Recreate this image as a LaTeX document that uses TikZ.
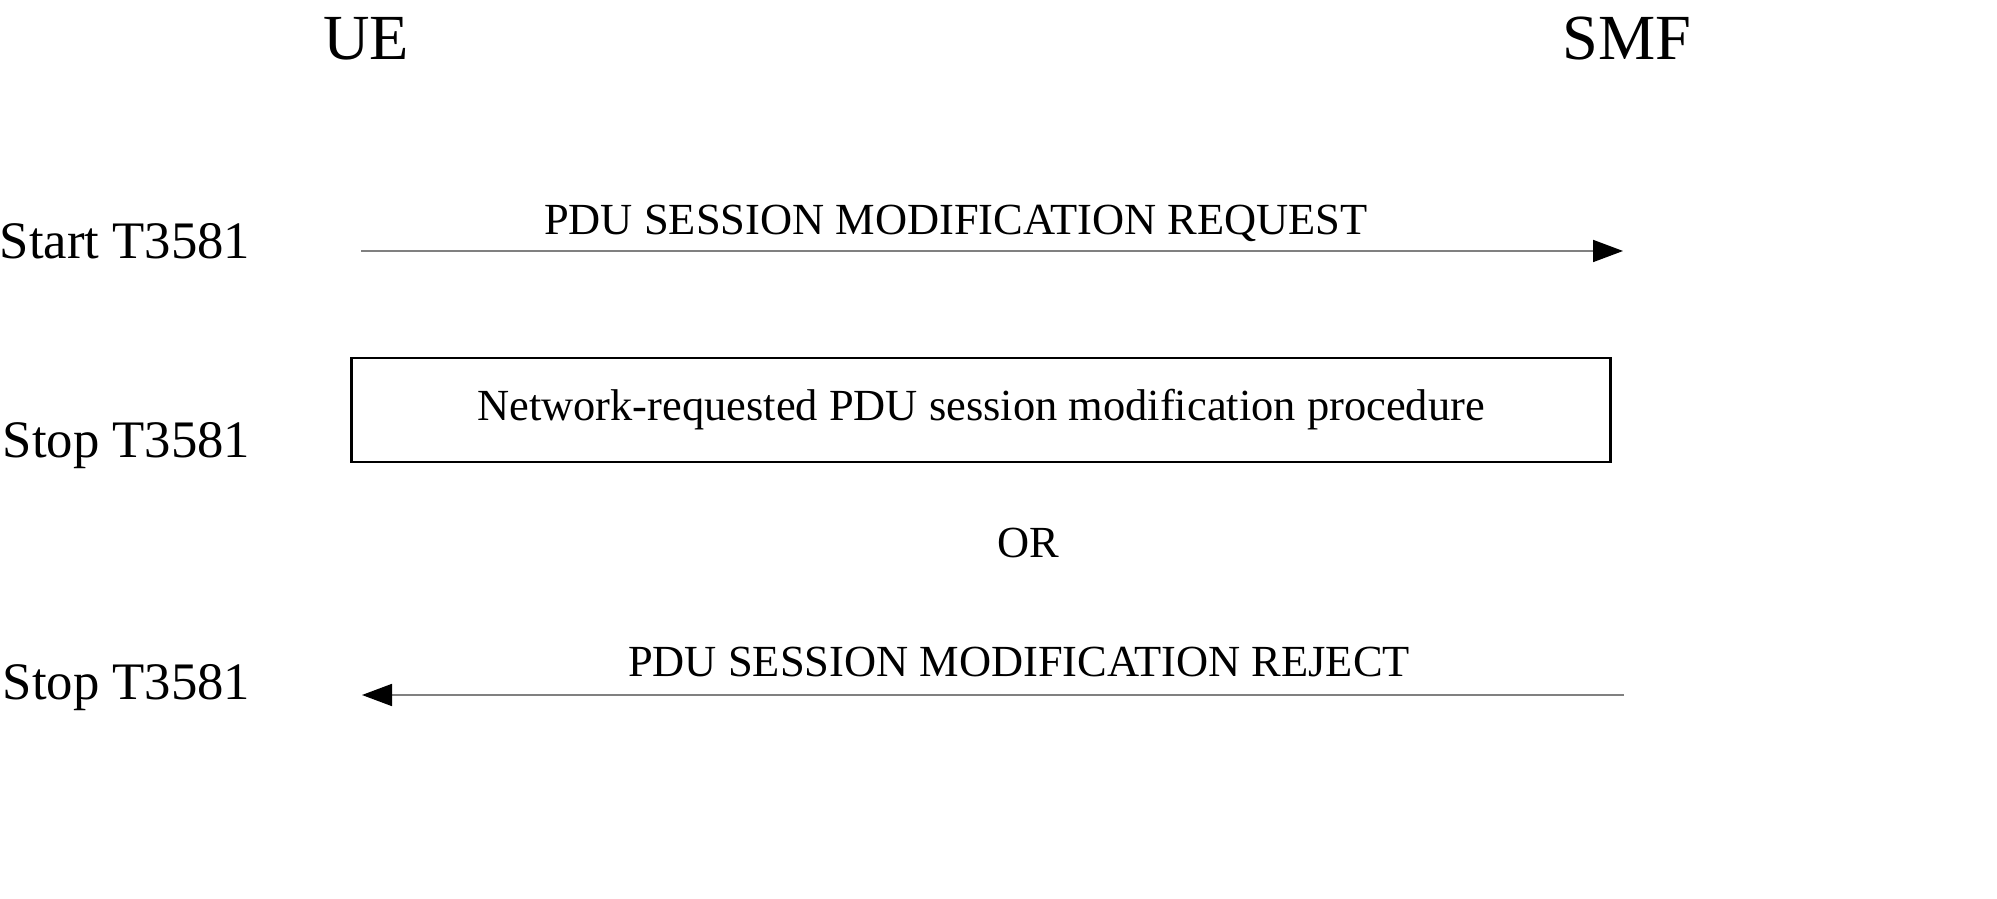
\documentclass[tikz,border=0pt]{standalone}
\usepackage{fontspec}
\setmainfont{Liberation Serif}
\usetikzlibrary{arrows.meta}

\begin{document}
\begin{tikzpicture}[
		entity/.style={font=\fontsize{18.3}{20}\selectfont, inner sep=0pt, anchor=base},
		timer/.style={font=\fontsize{15}{18}\selectfont, inner sep=0pt, anchor=base east},
		msglabel/.style={font=\fontsize{12.65}{14}\selectfont, inner sep=0pt, anchor=base},
		msg/.style={draw=gray, line width=0.5pt, -{Triangle[length=3mm,width=2.2mm,black]}},
		proc/.style={draw, line width=0.8pt, minimum width=12.59cm, minimum height=1.04cm, font=\fontsize{12.65}{14}\selectfont}
	]
		\useasboundingbox (0,0) rectangle (19.97,-8.99);
		
		% Entities
		\node[entity] (ue) at (3.66,-0.60) {UE};
		\node[entity] (smf) at (16.27,-0.60) {SMF};
		
		% Timers
		\node[timer] (start) at (2.51,-2.59) {Start T3581};
		\node[timer] (stopa) at (2.51,-4.58) {Stop T3581};
		\node[timer] (stopb) at (2.51,-7.00) {Stop T3581};
		
		% Request
		\coordinate (req from) at (3.61,-2.51);
		\coordinate (req to) at (16.23,-2.51);
		\node[msglabel] (reqlabel) at (9.56,-2.35) {PDU SESSION MODIFICATION REQUEST};
		\draw[msg] (req from) -- (req to);
		
		% Procedure
		\node[proc] (proc) at (9.81,-4.10) {Network-requested PDU session modification procedure};
		\node[msglabel] (or) at (10.28,-5.58) {OR};
		
		% Reject
		\coordinate (rej from) at (16.24,-6.95);
		\coordinate (rej to) at (3.62,-6.95);
		\node[msglabel] (rejlabel) at (10.19,-6.77) {PDU SESSION MODIFICATION REJECT};
		\draw[msg] (rej from) -- (rej to);
		
\end{tikzpicture}
\end{document}
